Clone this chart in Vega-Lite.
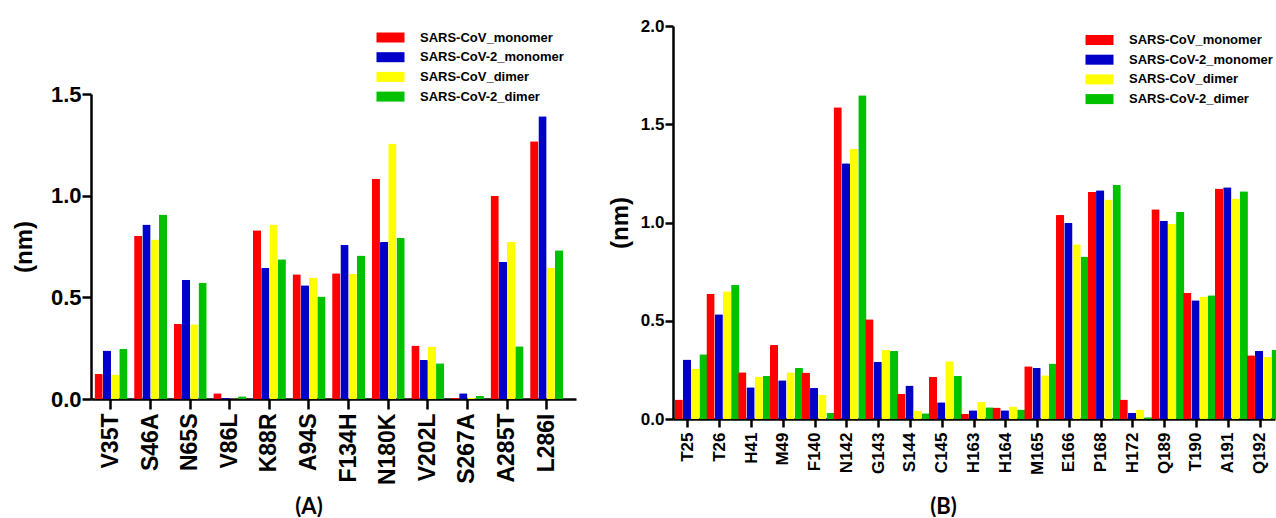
{
  "$schema": "https://vega.github.io/schema/vega-lite/v6.json",
  "padding": {"left": 12, "top": 17, "right": 0, "bottom": 0},
  "config": {
    "view": {"stroke": null},
    "font": "Liberation Sans",
    "axis": {
      "grid": false,
      "domainColor": "black", "domainWidth": 2.5,
      "tickColor": "black", "tickWidth": 2.5,
      "labelColor": "black", "labelFont": "Liberation Sans", "labelFontWeight": "bold",
      "titleColor": "black", "titleFont": "Liberation Sans", "titleFontWeight": "bold"
    },
    "legend": {
      "orient": "none", "direction": "vertical", "title": null, "padding": 0,
      "symbolType": "M-2.8,-1H2.8V1H-2.8Z", "symbolSize": 100, "symbolStrokeWidth": 0, "symbolOpacity": 1,
      "labelFont": "Liberation Sans", "labelFontWeight": "bold", "labelFontSize": 13, "labelColor": "black",
      "labelOffset": 23, "rowPadding": 5.7, "labelLimit": 300
    }
  },
  "datasets": {
    "a": [
      {"residue": "V35T", "system": "SARS-CoV_monomer", "value": 0.123},
      {"residue": "V35T", "system": "SARS-CoV-2_monomer", "value": 0.238},
      {"residue": "V35T", "system": "SARS-CoV_dimer", "value": 0.12},
      {"residue": "V35T", "system": "SARS-CoV-2_dimer", "value": 0.246},
      {"residue": "S46A", "system": "SARS-CoV_monomer", "value": 0.803},
      {"residue": "S46A", "system": "SARS-CoV-2_monomer", "value": 0.858},
      {"residue": "S46A", "system": "SARS-CoV_dimer", "value": 0.785},
      {"residue": "S46A", "system": "SARS-CoV-2_dimer", "value": 0.907},
      {"residue": "N65S", "system": "SARS-CoV_monomer", "value": 0.37},
      {"residue": "N65S", "system": "SARS-CoV-2_monomer", "value": 0.586},
      {"residue": "N65S", "system": "SARS-CoV_dimer", "value": 0.368},
      {"residue": "N65S", "system": "SARS-CoV-2_dimer", "value": 0.572},
      {"residue": "V86L", "system": "SARS-CoV_monomer", "value": 0.028},
      {"residue": "V86L", "system": "SARS-CoV-2_monomer", "value": 0.005},
      {"residue": "V86L", "system": "SARS-CoV_dimer", "value": 0.002},
      {"residue": "V86L", "system": "SARS-CoV-2_dimer", "value": 0.013},
      {"residue": "K88R", "system": "SARS-CoV_monomer", "value": 0.83},
      {"residue": "K88R", "system": "SARS-CoV-2_monomer", "value": 0.644},
      {"residue": "K88R", "system": "SARS-CoV_dimer", "value": 0.858},
      {"residue": "K88R", "system": "SARS-CoV-2_dimer", "value": 0.687},
      {"residue": "A94S", "system": "SARS-CoV_monomer", "value": 0.614},
      {"residue": "A94S", "system": "SARS-CoV-2_monomer", "value": 0.559},
      {"residue": "A94S", "system": "SARS-CoV_dimer", "value": 0.598},
      {"residue": "A94S", "system": "SARS-CoV-2_dimer", "value": 0.504},
      {"residue": "F134H", "system": "SARS-CoV_monomer", "value": 0.619},
      {"residue": "F134H", "system": "SARS-CoV-2_monomer", "value": 0.759},
      {"residue": "F134H", "system": "SARS-CoV_dimer", "value": 0.616},
      {"residue": "F134H", "system": "SARS-CoV-2_dimer", "value": 0.706},
      {"residue": "N180K", "system": "SARS-CoV_monomer", "value": 1.083},
      {"residue": "N180K", "system": "SARS-CoV-2_monomer", "value": 0.772},
      {"residue": "N180K", "system": "SARS-CoV_dimer", "value": 1.257},
      {"residue": "N180K", "system": "SARS-CoV-2_dimer", "value": 0.792},
      {"residue": "V202L", "system": "SARS-CoV_monomer", "value": 0.263},
      {"residue": "V202L", "system": "SARS-CoV-2_monomer", "value": 0.192},
      {"residue": "V202L", "system": "SARS-CoV_dimer", "value": 0.258},
      {"residue": "V202L", "system": "SARS-CoV-2_dimer", "value": 0.176},
      {"residue": "S267A", "system": "SARS-CoV_monomer", "value": 0.005},
      {"residue": "S267A", "system": "SARS-CoV-2_monomer", "value": 0.028},
      {"residue": "S267A", "system": "SARS-CoV_dimer", "value": 0.005},
      {"residue": "S267A", "system": "SARS-CoV-2_dimer", "value": 0.016},
      {"residue": "A285T", "system": "SARS-CoV_monomer", "value": 1.0},
      {"residue": "A285T", "system": "SARS-CoV-2_monomer", "value": 0.675},
      {"residue": "A285T", "system": "SARS-CoV_dimer", "value": 0.772},
      {"residue": "A285T", "system": "SARS-CoV-2_dimer", "value": 0.26},
      {"residue": "L286I", "system": "SARS-CoV_monomer", "value": 1.268},
      {"residue": "L286I", "system": "SARS-CoV-2_monomer", "value": 1.391},
      {"residue": "L286I", "system": "SARS-CoV_dimer", "value": 0.647},
      {"residue": "L286I", "system": "SARS-CoV-2_dimer", "value": 0.731}
    ],
    "b": [
      {"residue": "T25", "system": "SARS-CoV_monomer", "value": 0.099},
      {"residue": "T25", "system": "SARS-CoV-2_monomer", "value": 0.303},
      {"residue": "T25", "system": "SARS-CoV_dimer", "value": 0.254},
      {"residue": "T25", "system": "SARS-CoV-2_dimer", "value": 0.33},
      {"residue": "T26", "system": "SARS-CoV_monomer", "value": 0.638},
      {"residue": "T26", "system": "SARS-CoV-2_monomer", "value": 0.533},
      {"residue": "T26", "system": "SARS-CoV_dimer", "value": 0.65},
      {"residue": "T26", "system": "SARS-CoV-2_dimer", "value": 0.683},
      {"residue": "H41", "system": "SARS-CoV_monomer", "value": 0.238},
      {"residue": "H41", "system": "SARS-CoV-2_monomer", "value": 0.162},
      {"residue": "H41", "system": "SARS-CoV_dimer", "value": 0.214},
      {"residue": "H41", "system": "SARS-CoV-2_dimer", "value": 0.22},
      {"residue": "M49", "system": "SARS-CoV_monomer", "value": 0.376},
      {"residue": "M49", "system": "SARS-CoV-2_monomer", "value": 0.197},
      {"residue": "M49", "system": "SARS-CoV_dimer", "value": 0.238},
      {"residue": "M49", "system": "SARS-CoV-2_dimer", "value": 0.259},
      {"residue": "F140", "system": "SARS-CoV_monomer", "value": 0.237},
      {"residue": "F140", "system": "SARS-CoV-2_monomer", "value": 0.158},
      {"residue": "F140", "system": "SARS-CoV_dimer", "value": 0.123},
      {"residue": "F140", "system": "SARS-CoV-2_dimer", "value": 0.031},
      {"residue": "N142", "system": "SARS-CoV_monomer", "value": 1.586},
      {"residue": "N142", "system": "SARS-CoV-2_monomer", "value": 1.302},
      {"residue": "N142", "system": "SARS-CoV_dimer", "value": 1.374},
      {"residue": "N142", "system": "SARS-CoV-2_dimer", "value": 1.648},
      {"residue": "G143", "system": "SARS-CoV_monomer", "value": 0.507},
      {"residue": "G143", "system": "SARS-CoV-2_monomer", "value": 0.291},
      {"residue": "G143", "system": "SARS-CoV_dimer", "value": 0.351},
      {"residue": "G143", "system": "SARS-CoV-2_dimer", "value": 0.346},
      {"residue": "S144", "system": "SARS-CoV_monomer", "value": 0.129},
      {"residue": "S144", "system": "SARS-CoV-2_monomer", "value": 0.17},
      {"residue": "S144", "system": "SARS-CoV_dimer", "value": 0.041},
      {"residue": "S144", "system": "SARS-CoV-2_dimer", "value": 0.029},
      {"residue": "C145", "system": "SARS-CoV_monomer", "value": 0.214},
      {"residue": "C145", "system": "SARS-CoV-2_monomer", "value": 0.085},
      {"residue": "C145", "system": "SARS-CoV_dimer", "value": 0.294},
      {"residue": "C145", "system": "SARS-CoV-2_dimer", "value": 0.22},
      {"residue": "H163", "system": "SARS-CoV_monomer", "value": 0.027},
      {"residue": "H163", "system": "SARS-CoV-2_monomer", "value": 0.044},
      {"residue": "H163", "system": "SARS-CoV_dimer", "value": 0.087},
      {"residue": "H163", "system": "SARS-CoV-2_dimer", "value": 0.06},
      {"residue": "H164", "system": "SARS-CoV_monomer", "value": 0.058},
      {"residue": "H164", "system": "SARS-CoV-2_monomer", "value": 0.044},
      {"residue": "H164", "system": "SARS-CoV_dimer", "value": 0.063},
      {"residue": "H164", "system": "SARS-CoV-2_dimer", "value": 0.048},
      {"residue": "M165", "system": "SARS-CoV_monomer", "value": 0.269},
      {"residue": "M165", "system": "SARS-CoV-2_monomer", "value": 0.26},
      {"residue": "M165", "system": "SARS-CoV_dimer", "value": 0.223},
      {"residue": "M165", "system": "SARS-CoV-2_dimer", "value": 0.283},
      {"residue": "E166", "system": "SARS-CoV_monomer", "value": 1.038},
      {"residue": "E166", "system": "SARS-CoV-2_monomer", "value": 0.997},
      {"residue": "E166", "system": "SARS-CoV_dimer", "value": 0.889},
      {"residue": "E166", "system": "SARS-CoV-2_dimer", "value": 0.827},
      {"residue": "P168", "system": "SARS-CoV_monomer", "value": 1.156},
      {"residue": "P168", "system": "SARS-CoV-2_monomer", "value": 1.164},
      {"residue": "P168", "system": "SARS-CoV_dimer", "value": 1.117},
      {"residue": "P168", "system": "SARS-CoV-2_dimer", "value": 1.191},
      {"residue": "H172", "system": "SARS-CoV_monomer", "value": 0.099},
      {"residue": "H172", "system": "SARS-CoV-2_monomer", "value": 0.032},
      {"residue": "H172", "system": "SARS-CoV_dimer", "value": 0.048},
      {"residue": "H172", "system": "SARS-CoV-2_dimer", "value": 0.009},
      {"residue": "Q189", "system": "SARS-CoV_monomer", "value": 1.067},
      {"residue": "Q189", "system": "SARS-CoV-2_monomer", "value": 1.009},
      {"residue": "Q189", "system": "SARS-CoV_dimer", "value": 0.992},
      {"residue": "Q189", "system": "SARS-CoV-2_dimer", "value": 1.054},
      {"residue": "T190", "system": "SARS-CoV_monomer", "value": 0.642},
      {"residue": "T190", "system": "SARS-CoV-2_monomer", "value": 0.604},
      {"residue": "T190", "system": "SARS-CoV_dimer", "value": 0.623},
      {"residue": "T190", "system": "SARS-CoV-2_dimer", "value": 0.63},
      {"residue": "A191", "system": "SARS-CoV_monomer", "value": 1.173},
      {"residue": "A191", "system": "SARS-CoV-2_monomer", "value": 1.18},
      {"residue": "A191", "system": "SARS-CoV_dimer", "value": 1.122},
      {"residue": "A191", "system": "SARS-CoV-2_dimer", "value": 1.159},
      {"residue": "Q192", "system": "SARS-CoV_monomer", "value": 0.325},
      {"residue": "Q192", "system": "SARS-CoV-2_monomer", "value": 0.347},
      {"residue": "Q192", "system": "SARS-CoV_dimer", "value": 0.315},
      {"residue": "Q192", "system": "SARS-CoV-2_dimer", "value": 0.351}
    ]
  },
  "spacing": 32,
  "resolve": {"legend": {"color": "independent"}},
  "hconcat": [
    {
      "spacing": 0,
      "resolve": {"legend": {"color": "independent"}},
      "vconcat": [
        {
          "width": 485, "height": 5,
          "data": {"values": []},
          "mark": "rect",
          "encoding": {}
        },
        {
          "data": {"name": "a"},
          "width": 485, "height": 305,
          "mark": {"type": "bar", "cornerRadius": 1},
          "encoding": {
            "x": {
              "field": "residue", "type": "nominal", "sort": null,
              "scale": {"paddingInner": 0.167, "paddingOuter": 0.207, "align": 0.213},
              "axis": {
                "title": "(A)", "labelAngle": -90, "labelFontSize": 23, "tickSize": 10, "labelPadding": 4,
                "titleFont": "Lato", "titleFontSize": 22, "titleX": 217.5, "titleY": 107,
                "titleBaseline": "middle", "titleAlign": "center"
              }
            },
            "xOffset": {
              "field": "system", "type": "nominal",
              "sort": ["SARS-CoV_monomer", "SARS-CoV-2_monomer", "SARS-CoV_dimer", "SARS-CoV-2_dimer"],
              "scale": {"paddingInner": 0, "paddingOuter": 0}
            },
            "y": {
              "field": "value", "type": "quantitative",
              "scale": {"domain": [0, 1.5], "nice": false},
              "axis": {
                "title": "(nm)", "values": [0, 0.5, 1, 1.5], "format": ".1f",
                "labelFontSize": 22, "tickSize": 9, "labelPadding": 1,
                "titleFontSize": 24, "titleX": -67, "titleY": 152.5, "titleAngle": -90,
                "titleBaseline": "middle", "titleAlign": "center"
              }
            },
            "color": {
              "field": "system", "type": "nominal",
              "scale": {
                "domain": ["SARS-CoV_monomer", "SARS-CoV-2_monomer", "SARS-CoV_dimer", "SARS-CoV-2_dimer"],
                "range": ["#ff0000", "#0000c8", "#ffff00", "#00c000"]
              },
              "legend": {"orient": "none", "legendX": 293, "legendY": -63}
            }
          }
        }
      ]
    },
    {
      "data": {"name": "b"},
      "width": 602, "height": 393,
      "mark": {"type": "bar", "cornerRadius": 1},
      "encoding": {
        "x": {
          "field": "residue", "type": "nominal", "sort": null,
          "scale": {"paddingInner": 0.16, "paddingOuter": 0.05},
          "axis": {
            "title": "(B)", "labelAngle": -90, "labelFontSize": 17, "tickSize": 8, "labelPadding": 5,
            "titleFont": "Lato", "titleFontSize": 22, "titleX": 270, "titleY": 87,
            "titleBaseline": "middle", "titleAlign": "center"
          }
        },
        "xOffset": {
          "field": "system", "type": "nominal",
          "sort": ["SARS-CoV_monomer", "SARS-CoV-2_monomer", "SARS-CoV_dimer", "SARS-CoV-2_dimer"],
          "scale": {"paddingInner": 0, "paddingOuter": 0}
        },
        "y": {
          "field": "value", "type": "quantitative",
          "scale": {"domain": [0, 2], "nice": false},
          "axis": {
            "title": "(nm)", "values": [0, 0.5, 1, 1.5, 2], "format": ".1f",
            "labelFontSize": 17, "tickSize": 8, "labelPadding": 1,
            "titleFontSize": 24, "titleX": -53, "titleY": 196.5, "titleAngle": -90,
            "titleBaseline": "middle", "titleAlign": "center"
          }
        },
        "color": {
          "field": "system", "type": "nominal",
          "scale": {
            "domain": ["SARS-CoV_monomer", "SARS-CoV-2_monomer", "SARS-CoV_dimer", "SARS-CoV-2_dimer"],
            "range": ["#ff0000", "#0000c8", "#ffff00", "#00c000"]
          },
          "legend": {"orient": "none", "legendX": 420, "legendY": 7.5}
        }
      }
    }
  ]
}
